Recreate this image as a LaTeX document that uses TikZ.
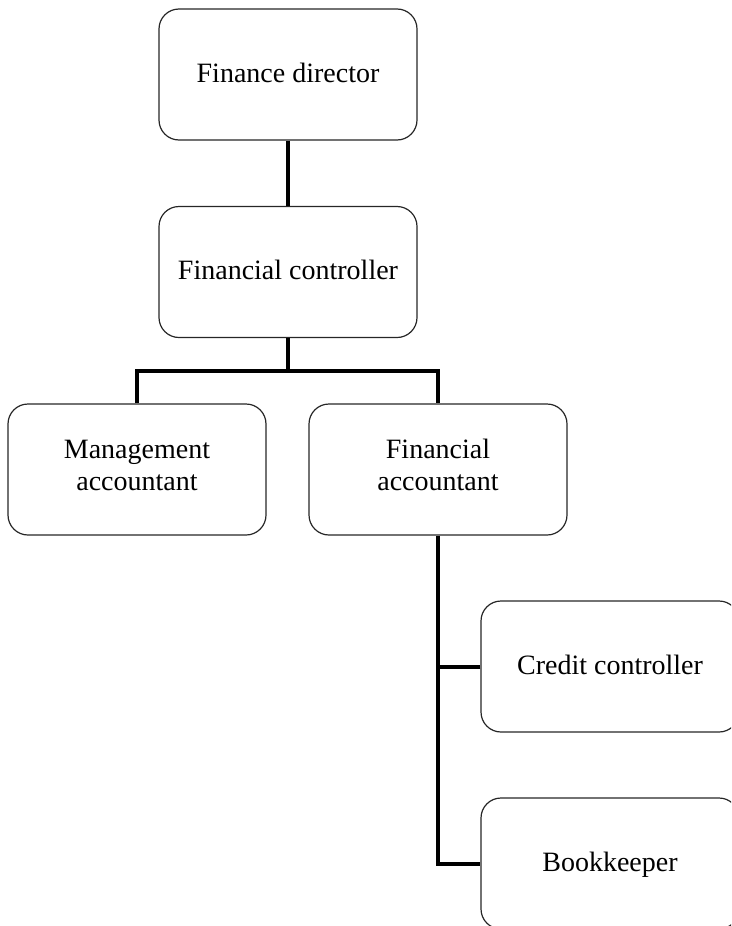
\documentclass[tikz,border=0pt]{standalone}
\usepackage{fontspec}
\setmainfont{Liberation Serif}
\begin{document}
\begin{tikzpicture}[x=1pt,y=-1pt,
  post/.style={draw=black!85, line width=1.2pt, rounded corners=20pt,
    minimum width=258pt, minimum height=131pt, align=center,
    font=\fontsize{28}{32}\selectfont, inner sep=0pt, text depth=4pt},
  twoline/.style={text depth=9pt},
  link/.style={draw=black, line width=4pt, line join=miter}]
  \useasboundingbox (0,0) rectangle (731,926);
  \clip (0,0) rectangle (731,926);

  % posts in the finance department
  \node[post] (fd) at (288,74.5)  {Finance director};
  \node[post] (fc) at (288,272)   {Financial controller};
  \node[post,twoline] (ma) at (137,469.5) {Management\\accountant};
  \node[post,twoline] (fa) at (438,469.5) {Financial\\accountant};
  \node[post] (cc) at (610,666.5) {Credit controller};
  \node[post] (bk) at (610,863.5) {Bookkeeper};

  % reporting lines
  \coordinate (bus) at (288,371);
  \draw[link] (fd.south) -- (fc.north);
  \draw[link] (fc.south) -- (bus);
  \draw[link] (ma.north) |- (bus) -| (fa.north);
  \draw[link] (fa.south) |- (bk.west);
  \draw[link] (cc.west) -| (fa.south);
\end{tikzpicture}
\end{document}
